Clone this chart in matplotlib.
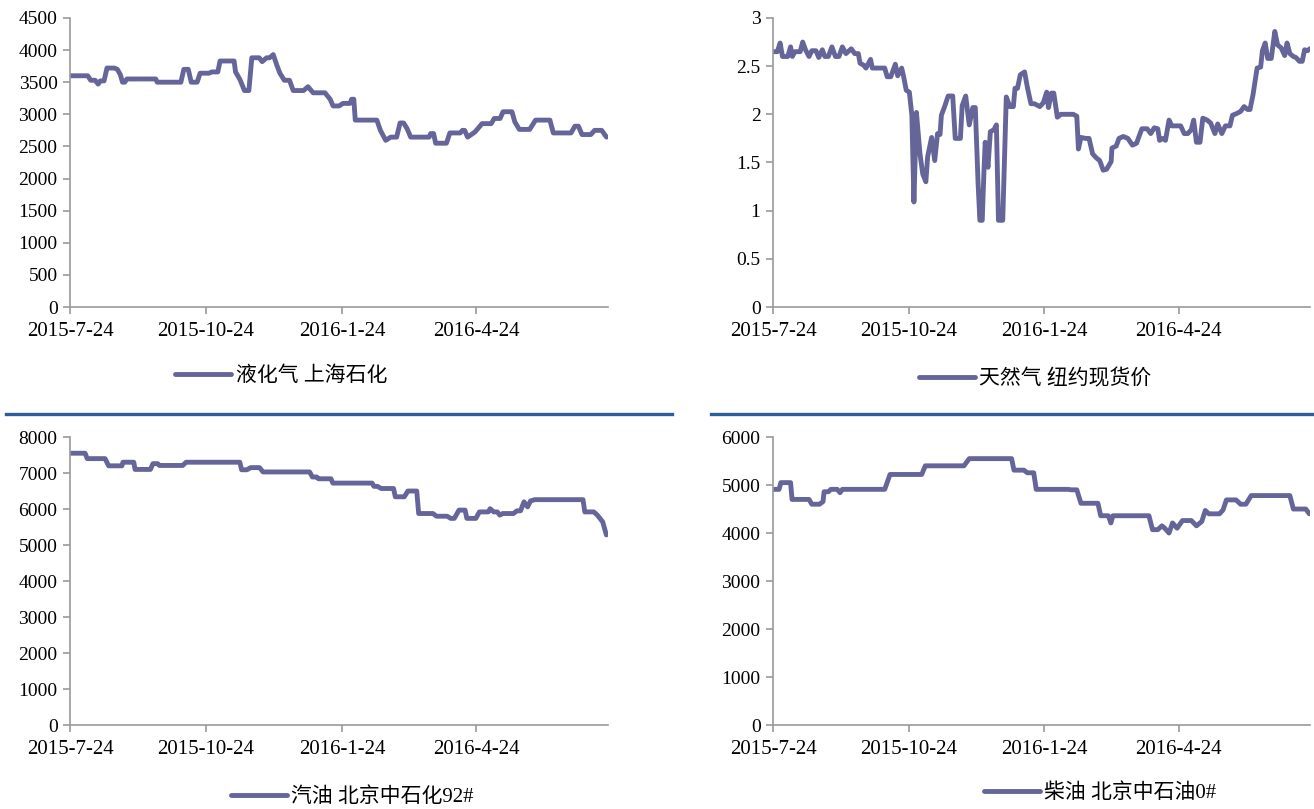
import matplotlib
matplotlib.use("Agg")
import matplotlib.pyplot as plt
from matplotlib.lines import Line2D

# days since 2015-7-24
lpg_day = [0, 12, 14, 17, 19, 20.5, 23, 25, 30, 32, 34, 35.5, 37, 38.5, 58, 59, 75, 77, 80, 82, 86,
           88, 94, 96, 100, 101.5, 111, 112, 115, 118, 121, 123, 128, 130, 133, 135, 137.5, 140, 142,
           145, 148.5, 151, 158, 161, 164.5, 172.5, 176, 178, 182, 184.7, 189.5, 190.5, 192, 193,
           207.6, 210, 213.6, 217, 221, 223.3, 225.7, 228, 230.5, 243, 244, 246, 247.4, 254.7, 257,
           264, 265.5, 267, 269, 274, 278.8, 285, 287, 291, 293, 299, 301, 304, 311, 315, 324.7, 327,
           339, 341.6, 344, 346.4, 352.4, 354.9, 359.7, 363]
lpg_val = [3600, 3600, 3530, 3530, 3470, 3520, 3520, 3720, 3720, 3700, 3620, 3500, 3500, 3550, 3550,
           3500, 3500, 3700, 3700, 3500, 3500, 3640, 3640, 3660, 3660, 3830, 3830, 3660, 3540, 3370,
           3370, 3880, 3880, 3820, 3880, 3880, 3930, 3760, 3640, 3530, 3530, 3370, 3370, 3430, 3335,
           3335, 3235, 3130, 3130, 3170, 3170, 3235, 3235, 2910, 2910, 2750, 2595, 2645, 2645, 2865,
           2865, 2780, 2645, 2645, 2700, 2700, 2550, 2550, 2710, 2710, 2750, 2750, 2645, 2725, 2855,
           2855, 2935, 2935, 3040, 3040, 2880, 2765, 2765, 2910, 2910, 2710, 2710, 2815, 2815, 2685,
           2685, 2750, 2750, 2645]

gas_day = [0, 2.9, 4.8, 6.4, 10, 11.9, 13.1, 14.8, 18.4, 20.1, 22, 24.4, 26.3, 29.1, 31, 33.4, 35.1,
           37.5, 39.9, 42.3, 44.7, 47, 49.4, 53, 55.4, 57.8, 59, 61.4, 63, 66.1, 67.3, 75.7, 77.4,
           79.8, 82.9, 84.5, 87.2, 88.4, 90.3, 92.4, 94.1, 95.5, 97.2, 99.6, 101.5, 103.6, 104.8,
           107.5, 109.6, 111.5, 113.2, 114.1, 116.3, 118.7, 121.8, 123.5, 127, 128.2, 130.6, 133,
           135.4, 137.1, 139, 140.2, 141.8, 143, 143.8, 145.7, 147.3, 149.7, 151.4, 152.8, 155.7,
           158.1, 160.5, 162.9, 164, 165.7, 167.6, 170.5, 172.4, 174.8, 177.2, 180.8, 183.2, 185.5,
           186.7, 188.7, 190.3, 192.7, 195.1, 203.5, 205.9, 207, 208.7, 211.8, 214.2, 216.6, 219,
           221.4, 223.8, 226.1, 229.2, 229.7, 232.6, 234.5, 237.4, 240.5, 243.6, 246.4, 250, 253.6,
           256, 258.4, 260.8, 262, 264.4, 266, 268.4, 270.3, 272.7, 276.3, 278.7, 281.1, 283.5,
           285.1, 287, 289.4, 291.3, 294.2, 296.6, 299.5, 301.4, 304.2, 306.6, 309.7, 311.4, 314.5,
           316.9, 319.3, 321.7, 323.3, 325.3, 328.1, 330.5, 331.7, 333.6, 335.3, 337.7, 340.1, 342,
           344.4, 346.8, 348.4, 350.3, 352.7, 354.4, 356.8, 358.7, 360.3, 362.2, 363.9]
gas_val = [2.65, 2.65, 2.74, 2.60, 2.60, 2.70, 2.60, 2.65, 2.65, 2.75, 2.67, 2.60, 2.66, 2.66, 2.59,
           2.67, 2.60, 2.60, 2.70, 2.60, 2.60, 2.70, 2.63, 2.68, 2.63, 2.63, 2.53, 2.51, 2.48, 2.57,
           2.48, 2.48, 2.39, 2.39, 2.52, 2.40, 2.48, 2.40, 2.25, 2.23, 1.99, 1.09, 2.02, 1.59, 1.38,
           1.30, 1.56, 1.76, 1.52, 1.80, 1.79, 1.99, 2.08, 2.19, 2.19, 1.75, 1.75, 2.09, 2.19, 1.89,
           2.07, 2.07, 1.28, 0.90, 0.90, 1.42, 1.71, 1.45, 1.82, 1.84, 1.89, 0.90, 0.90, 2.18, 2.08,
           2.08, 2.27, 2.27, 2.41, 2.44, 2.28, 2.11, 2.11, 2.08, 2.12, 2.23, 2.07, 2.22, 2.22, 1.97,
           2.00, 2.00, 1.98, 1.64, 1.76, 1.75, 1.75, 1.59, 1.55, 1.52, 1.42, 1.43, 1.51, 1.65, 1.67,
           1.75, 1.77, 1.75, 1.68, 1.70, 1.85, 1.85, 1.80, 1.86, 1.85, 1.73, 1.75, 1.73, 1.94, 1.88,
           1.88, 1.88, 1.80, 1.80, 1.84, 1.94, 1.71, 1.71, 1.96, 1.94, 1.91, 1.80, 1.90, 1.80, 1.88,
           1.88, 1.99, 2.01, 2.03, 2.08, 2.05, 2.05, 2.20, 2.48, 2.49, 2.66, 2.74, 2.58, 2.58, 2.86,
           2.72, 2.69, 2.61, 2.74, 2.63, 2.60, 2.59, 2.55, 2.55, 2.67, 2.66, 2.68]

petrol_day = [0, 10.2, 11.6, 23.7, 26.1, 35.1, 35.8, 43.1, 44, 54.4, 56.1, 59.3, 60.5, 76.2, 78.6,
              114.9, 116.1, 119.7, 122.2, 128.2, 130.6, 162.1, 164, 166.9, 168.1, 176.6, 177.8,
              204.4, 205.6, 208, 210.5, 218.9, 220.1, 226.2, 228.6, 234.6, 235.9, 245.5, 248, 255.2,
              257.6, 260, 263.2, 267.3, 268.5, 274.6, 277, 283, 284.2, 286.7, 289.1, 290.8, 292.7,
              300, 302.4, 304.8, 307.2, 309.6, 311.6, 314.5, 347.1, 348.3, 354.4, 356.8, 360.4, 362.9]
petrol_val = [7550, 7550, 7400, 7400, 7200, 7200, 7300, 7300, 7100, 7100, 7260, 7260, 7210, 7210,
              7300, 7300, 7090, 7090, 7150, 7150, 7030, 7030, 6890, 6890, 6840, 6840, 6720, 6720,
              6630, 6630, 6570, 6570, 6340, 6340, 6500, 6500, 5875, 5875, 5800, 5800, 5740, 5740,
              5970, 5970, 5740, 5740, 5920, 5920, 6010, 5920, 5920, 5830, 5875, 5875, 5950, 5950,
              6200, 6060, 6225, 6260, 6260, 5920, 5920, 5830, 5645, 5280]

diesel_day = [0, 4.1, 5.3, 11.9, 12.9, 24.4, 26.3, 31.5, 33.9, 34.6, 37.5, 39.2, 43.5, 45.4, 47, 75.7,
              79.3, 100.8, 103.2, 129.4, 133, 161.7, 163.3, 170, 172.4, 176.7, 178.4, 199.9, 202.3,
              205.9, 208.7, 220.2, 222.1, 227.3, 229, 230.4, 254.8, 257.2, 260.8, 263.6, 265.5, 268.4,
              270.8, 273.9, 277.5, 283.5, 287, 290.6, 293, 295.4, 302.6, 305, 307.3, 313.8, 316.9,
              320.5, 324.1, 350.3, 352.7, 361.1, 363.5]
diesel_val = [4910, 4910, 5050, 5050, 4700, 4700, 4600, 4600, 4655, 4860, 4860, 4910, 4910, 4840,
              4910, 4910, 5220, 5220, 5400, 5400, 5550, 5550, 5310, 5310, 5255, 5255, 4910, 4910,
              4900, 4900, 4620, 4620, 4360, 4360, 4210, 4360, 4360, 4070, 4070, 4150, 4100, 4000,
              4210, 4100, 4260, 4260, 4150, 4240, 4470, 4400, 4400, 4480, 4690, 4690, 4600, 4600,
              4780, 4780, 4500, 4500, 4400]

tick_day = [0, 92, 184, 275]
tick_lbl = ["2015-7-24", "2015-10-24", "2016-1-24", "2016-4-24"]

panels = [
    ("液化气 上海石化", lpg_day, lpg_val, 4500, 500, None),
    ("天然气 纽约现货价", gas_day, gas_val, 3, 0.5, ["0", "0.5", "1", "1.5", "2", "2.5", "3"]),
    ("汽油 北京中石化92#", petrol_day, petrol_val, 8000, 1000, None),
    ("柴油 北京中石油0#", diesel_day, diesel_val, 6000, 1000, None),
]

# axes rects in figure fractions
rects = [
    [0.0533, 0.6205, 0.4094, 0.3573],
    [0.5883, 0.6205, 0.4087, 0.3573],
    [0.0533, 0.1038, 0.4094, 0.3560],
    [0.5883, 0.1038, 0.4087, 0.3560],
]
legend_pos = [(281, 376), (1035, 379), (352, 797), (1100, 793)]

line_color = "#65659a"
axis_color = "#9a9a9a"
fonts = ["Liberation Serif", "Noto Sans CJK SC"]
plt.rcParams["font.family"] = fonts

W, H = 1314, 809
fig = plt.figure(figsize=(W / 100, H / 100), dpi=100)

for (name, d, v, ymax, ystep, ylbl), rect, lp in zip(panels, rects, legend_pos):
    ax = fig.add_axes(rect)
    ax.plot(d, v, color=line_color, lw=3.5, solid_joinstyle="round", solid_capstyle="round",
            label=name)
    ax.set_xlim(0, 364)
    ax.set_ylim(0, ymax)
    yt = [i * ystep for i in range(int(round(ymax / ystep)) + 1)]
    ax.set_yticks(yt)
    if ylbl is not None:
        ax.set_yticklabels(ylbl)
    else:
        ax.set_yticklabels([str(int(t)) for t in yt])
    ax.set_xticks(tick_day)
    ax.set_xticklabels(tick_lbl)
    for s in ["top", "right"]:
        ax.spines[s].set_visible(False)
    for s in ["left", "bottom"]:
        ax.spines[s].set_color(axis_color)
        ax.spines[s].set_linewidth(1.2)
    ax.tick_params(colors=axis_color, labelcolor="black", length=5, width=1.2, direction="out")
    ax.tick_params(axis="y", labelsize=14, pad=4)
    ax.tick_params(axis="x", labelsize=15, pad=6)
    leg = ax.legend(loc="center", bbox_to_anchor=(lp[0] / W, 1 - lp[1] / H),
                    bbox_transform=fig.transFigure, frameon=False, fontsize=15,
                    handlelength=2.7, handletextpad=0.2)

# blue separators between the rows
for x0, x1 in [(6, 672), (711, 1314)]:
    fig.add_artist(Line2D([x0 / W, x1 / W], [1 - 414 / H, 1 - 414 / H], color="#2c5d9c", lw=2.4,
                          transform=fig.transFigure))

fig.savefig("out.png", dpi=100)
